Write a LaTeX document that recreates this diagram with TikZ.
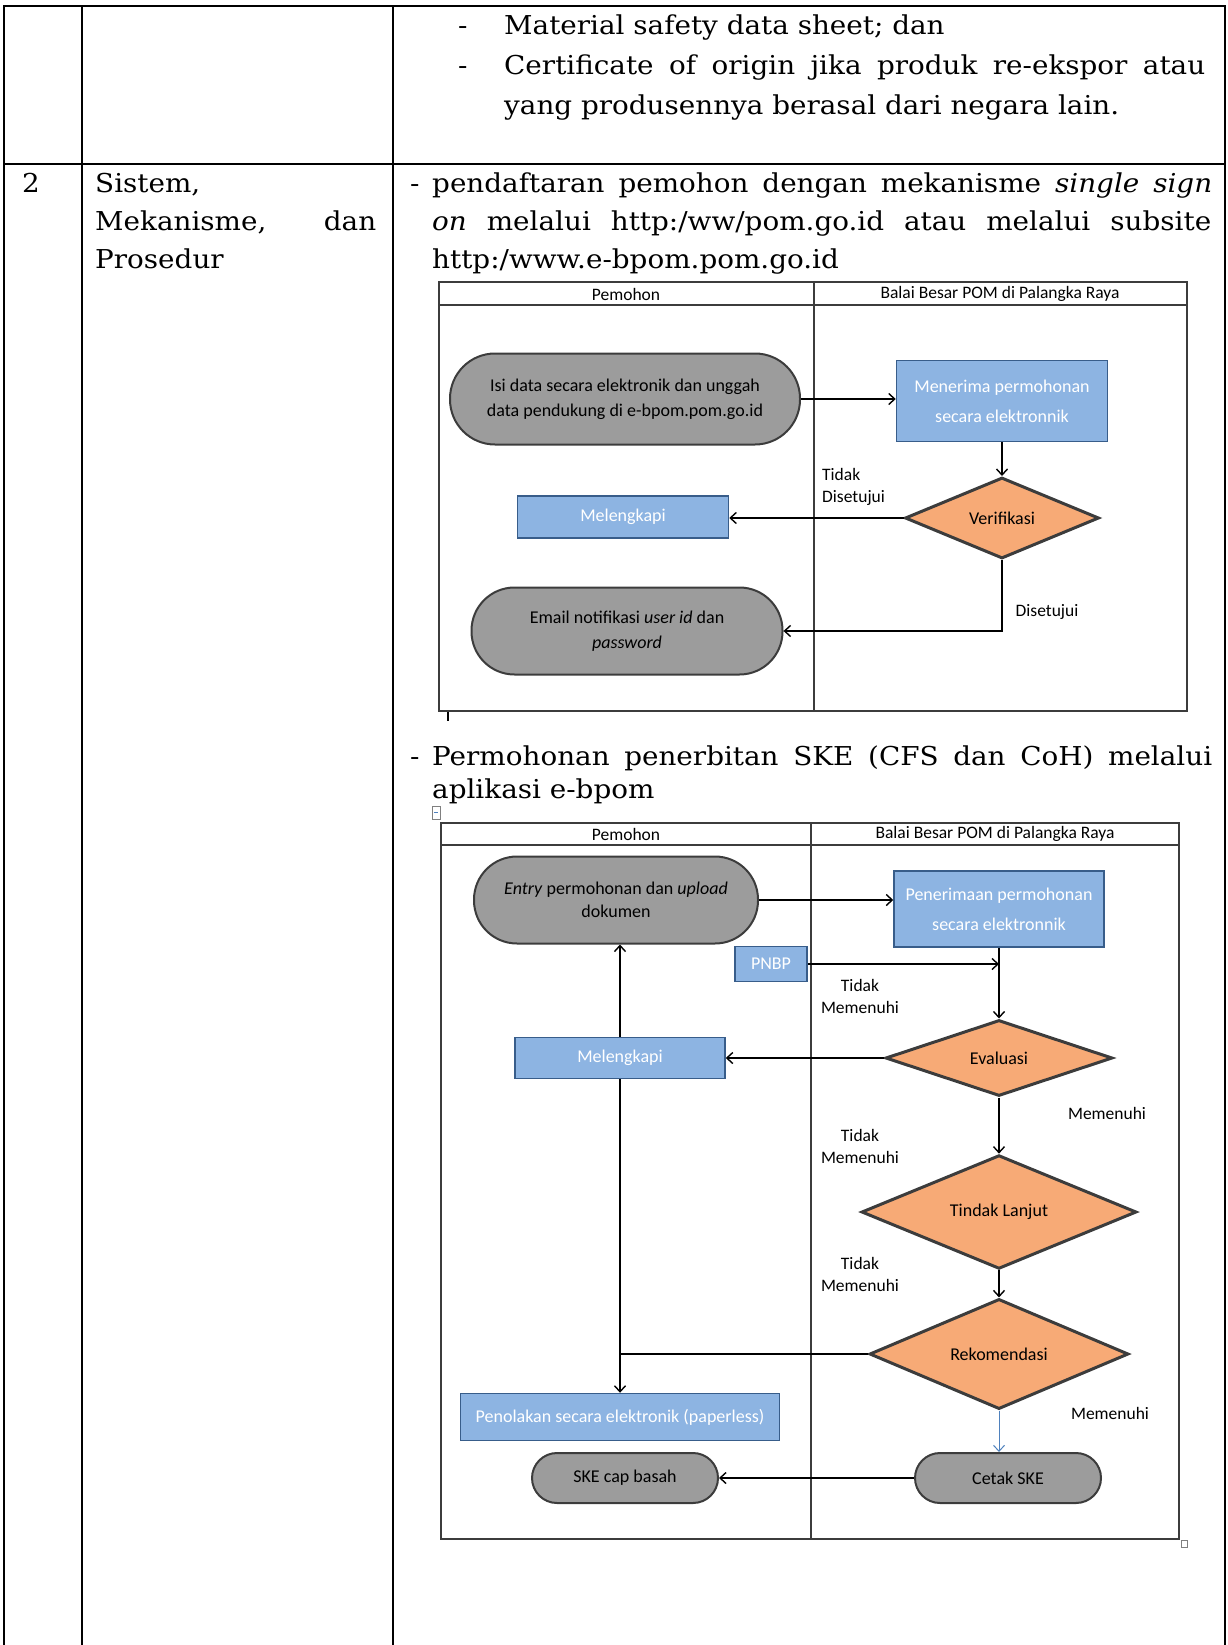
\documentclass[tikz,border=0pt]{standalone}
\usepackage{fontspec}
\setmainfont[FakeStretch=1.07]{DejaVu Serif}
\newfontfamily\calibri{Carlito}
\usetikzlibrary{shapes.geometric, arrows.meta}

\definecolor{boxblue}{RGB}{141,180,226}
\definecolor{boxedge}{RGB}{56,93,138}
\definecolor{pillgray}{RGB}{156,156,156}
\definecolor{diaorange}{RGB}{247,170,118}
\definecolor{lanegray}{RGB}{60,60,60}
\definecolor{flowblue}{RGB}{79,129,189}

\begin{document}
\begin{tikzpicture}[x=1pt, y=-1pt, >={Straight Barb[length=6pt,width=11pt]},
    tbl/.style={line width=2.5pt, line cap=rect},
    txt/.style={anchor=base west, inner sep=0pt, font=\fontsize{26}{38}\selectfont},
    lane/.style={draw=lanegray, line width=1.5pt},
    head/.style={inner sep=0pt, font=\calibri\fontsize{17.5}{21}\selectfont},
    flow/.style={line width=1.4pt},
    pill/.style={draw=lanegray, line width=2pt, fill=pillgray, rounded corners=#1, inner sep=0pt, align=center, font=\calibri\fontsize{18}{25}\selectfont},
    act/.style={draw=boxedge, line width=1.5pt, fill=boxblue, text=white, inner sep=0pt, align=center, font=\calibri\fontsize{18}{30}\selectfont},
    cond/.style={diamond, draw=lanegray, line width=3pt, fill=diaorange, inner sep=0pt, font=\calibri\fontsize{18}{25}\selectfont},
    note/.style={inner sep=0pt, align=center, font=\calibri\fontsize{17.5}{22}\selectfont}]

    \useasboundingbox (0,0) rectangle (1227,1645);

    \draw[tbl] (4,6) -- (1225,6) (4,164) -- (1225,164);
    \draw[tbl] (4,6) -- (4,1645) (82,6) -- (82,1645) (393,6) -- (393,1645) (1225,6) -- (1225,1645);

    \node [txt] (dash1) at (458 , 35) {-};
    \node [txt] (msds) at (504 , 35) {Material safety data sheet; dan};
    \node [txt] (dash2) at (458 , 75) {-};
    \node [txt] (coo1) at (504 , 75) {\makebox[701pt][s]{Certificate of origin jika produk re-ekspor atau}};
    \node [txt] (coo2) at (504 , 115) {yang produsennya berasal dari negara lain.};

    \node [txt] (nomor) at (22 , 193) {2};
    \node [txt] (sis1) at (95 , 193) {Sistem,};
    \node [txt] (sis2) at (95 , 231) {\makebox[281pt][s]{Mekanisme, dan}};
    \node [txt] (sis3) at (95 , 269) {Prosedur};

    \node [txt] (dash3) at (410 , 193) {-};
    \node [txt] (daftar1) at (432 , 193) {\makebox[780pt][s]{pendaftaran pemohon dengan mekanisme \textit{single sign}}};
    \node [txt] (daftar2) at (432 , 231) {\makebox[779pt][s]{\textit{on} melalui http:/ww/pom.go.id atau melalui subsite}};
    \node [txt] (daftar3) at (432 , 269) {http:/www.e-bpom.pom.go.id};

    \node [txt] (dash4) at (410 , 765) {-};
    \node [txt] (mohon1) at (432 , 765) {\makebox[780pt][s]{Permohonan penerbitan SKE (CFS dan CoH) melalui}};
    \node [txt] (mohon2) at (432 , 798) {aplikasi e-bpom};

    % alur pendaftaran
    \draw[lane] (439,282) rectangle (1187,711) (439,305) -- (1187,305) (814,282) -- (814,711);
    \node [head] (lane1a) at (626 , 294) {Pemohon};
    \node [head] (lane1b) at (1000 , 294) {Balai Besar POM di Palangka Raya};

    \node [pill=45pt, minimum width=350pt, minimum height=91pt] (isi) at (625 , 399) {Isi data secara elektronik dan unggah\\data pendukung di e-bpom.pom.go.id};
    \node [act, minimum width=211pt, minimum height=81pt] (terima) at (1002 , 401) {Menerima permohonan\\secara elektronnik};
    \node [cond, minimum width=194pt, minimum height=81pt] (verif) at (1002 , 518) {Verifikasi};
    \node [act, minimum width=211pt, minimum height=42pt] (lengkap) at (623 , 517) {Melengkapi};
    \node [pill=43pt, minimum width=311pt, minimum height=87pt] (email) at (627 , 631) {Email notifikasi \textit{user id} dan\\\textit{password}};
    \node [note, anchor=west, align=left] (tdksetuju) at (822 , 487) {Tidak\\Disetujui};
    \node [note] (setuju) at (1047 , 612) {Disetujui};

    \path[->, flow]
        (isi) edge (isi -| terima.west)
        (terima) edge (verif)
        (verif) edge (verif -| lengkap.east);
    \draw[->, flow] (verif.south) |- (email.east);

    \draw[line width=2pt] (448,712) -- (448,721);

    % alur permohonan SKE
    \draw[gray, line width=0.8pt, fill=white] (432,806) rectangle (440,819);
    \draw[flowblue, line width=0.8pt] (434,812.5) -- (438,812.5);
    \draw[lane] (441,823) rectangle (1179,1539) (441,845) -- (1179,845) (811,823) -- (811,1539);
    \node [head] (lane2a) at (626 , 834) {Pemohon};
    \node [head] (lane2b) at (995 , 834) {Balai Besar POM di Palangka Raya};

    \node [pill=43pt, minimum width=284pt, minimum height=87pt, font=\calibri\fontsize{18}{23}\selectfont] (entry) at (616 , 900) {\textit{Entry} permohonan dan \textit{upload}\\dokumen};
    \node [act, minimum width=210pt, minimum height=76pt] (terima2) at (999 , 909) {Penerimaan permohonan\\secara elektronnik};
    \node [act, minimum width=72pt, minimum height=35pt] (pnbp) at (771 , 964) {PNBP};
    \node [cond, minimum width=227pt, minimum height=76pt] (eval) at (999 , 1058) {Evaluasi};
    \node [act, minimum width=210pt, minimum height=41pt] (lengkap2) at (620 , 1058) {Melengkapi};
    \node [cond, minimum width=275pt, minimum height=87pt] (lanjut) at (999 , 1212) {Tindak Lanjut};
    \node [cond, minimum width=259pt, minimum height=77pt] (rekom) at (999 , 1354) {Rekomendasi};
    \node [act, minimum width=319pt, minimum height=47pt] (tolak) at (620 , 1417) {Penolakan secara elektronik (paperless)};
    \node [pill=25pt, minimum width=186pt, minimum height=50pt] (basah) at (625 , 1478) {SKE cap basah};
    \node [pill=25pt, minimum width=186pt, minimum height=50pt] (cetak) at (1008 , 1478) {Cetak SKE};

    \node [note] (tdk1) at (860 , 996) {Tidak\\Memenuhi};
    \node [note] (tdk2) at (860 , 1146) {Tidak\\Memenuhi};
    \node [note] (tdk3) at (860 , 1274) {Tidak\\Memenuhi};
    \node [note] (penuh1) at (1107 , 1113) {Memenuhi};
    \node [note] (penuh2) at (1110 , 1413) {Memenuhi};

    \path[->, flow]
        (entry) edge (entry -| terima2.west)
        (pnbp) edge (pnbp -| terima2.south)
        (terima2) edge (eval)
        (eval) edge (eval -| lengkap2.east)
        (lengkap2) edge (lengkap2 |- entry.south)
        (lengkap2) edge (lengkap2 |- tolak.north)
        (eval) edge (lanjut)
        (lanjut) edge (rekom)
        (cetak) edge (cetak -| basah.east);
    \draw[flow] (rekom) -- (rekom -| lengkap2.south);
    \draw[->, draw=flowblue, line width=1pt] (rekom) -- (rekom |- cetak.north);

    \draw[gray, line width=0.8pt] (1181,1540) rectangle (1187,1547);
\end{tikzpicture}
\end{document}
